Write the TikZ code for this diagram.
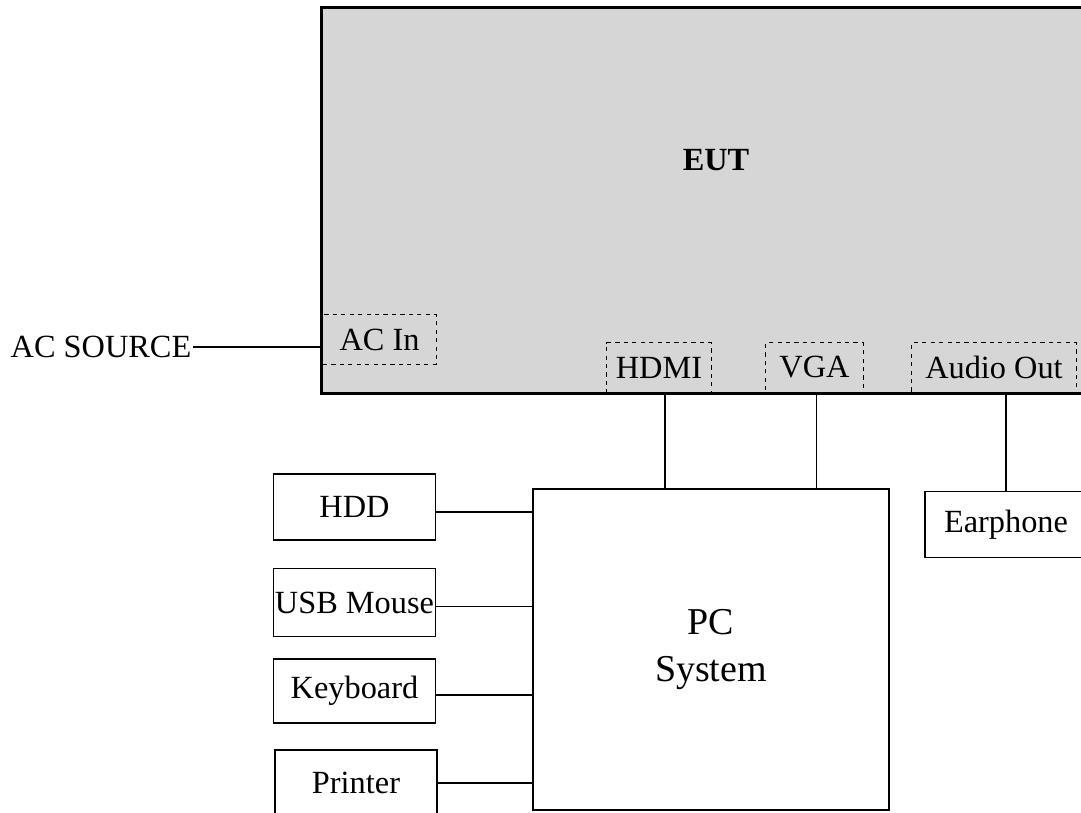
\documentclass[tikz,border=0pt]{standalone}
\usepackage{fontspec}
\setmainfont{Liberation Serif}
\usetikzlibrary{positioning}

\begin{document}
\begin{tikzpicture}[
  x=0.025cm, y=-0.025cm,
  font=\fontsize{23}{27}\selectfont,
  eutbox/.style={draw, line width=2.2pt, fill={rgb,255:red,214;green,214;blue,214}, minimum width=19.4cm, minimum height=9.625cm, inner sep=0pt},
  port/.style={draw, dashed, line width=0.7pt, inner sep=0pt},
  dev/.style={draw, line width=0.8pt, fill=white, minimum width=4.05cm, minimum height=1.65cm, inner sep=0pt},
  link/.style={line width=1.2pt}
]
\clip (0,0) rectangle (1081,813);
\node[eutbox] (eut) at (710,200.5) {};
\node[font=\fontsize{23}{27}\selectfont\bfseries] (euttxt) at (716,160) {EUT};
\node[port, minimum width=2.83cm, minimum height=1.23cm] (acin) at (379.5,339.5) {AC In};
\node[port, minimum width=2.6cm, minimum height=1.23cm] (hdmi) at (659,367.5) {HDMI};
\node[port, minimum width=2.43cm, minimum height=1.23cm] (vga) at (814.5,367.5) {VGA};
\node[port, minimum width=4.1cm, minimum height=1.23cm] (aout) at (994,367.5) {Audio Out};
\node[inner sep=1pt] (src) at (101,347) {AC SOURCE};
\node[draw, line width=1.8pt, minimum width=8.9cm, minimum height=8.03cm, align=center,
  font=\fontsize{27}{34}\selectfont] (pc) at (711,649.5) {PC\\System};
\node[dev] (hdd) at (354.5,507) {HDD};
\node[dev, minimum height=1.72cm] (mouse) at (354.5,602.5) {USB Mouse};
\node[dev, minimum height=1.6cm] (kbd) at (354.5,691) {Keyboard};
\node[dev] (prn) at (356,783) {Printer};
\node[dev] (ear) at (1006,524.5) {Earphone};
% cables
\draw[link] (src.east) -- (src.east -| eut.west);
\draw[link] (hdmi.south) ++(6,0) coordinate (h0) -- (h0 |- pc.north);
\draw[link] (vga.south) ++(2,0) coordinate (v0) -- (v0 |- pc.north);
\draw[link] (ear.north) -- (ear.north |- aout.south);
\draw[link] (hdd.east) ++(0,5) coordinate (d0) -- (d0 -| pc.west);
\draw[link] (mouse.east) ++(0,4) coordinate (m0) -- (m0 -| pc.west);
\draw[link] (kbd.east) ++(0,4) coordinate (k0) -- (k0 -| pc.west);
\draw[link] (prn.east) -- (prn.east -| pc.west);
\end{tikzpicture}
\end{document}
